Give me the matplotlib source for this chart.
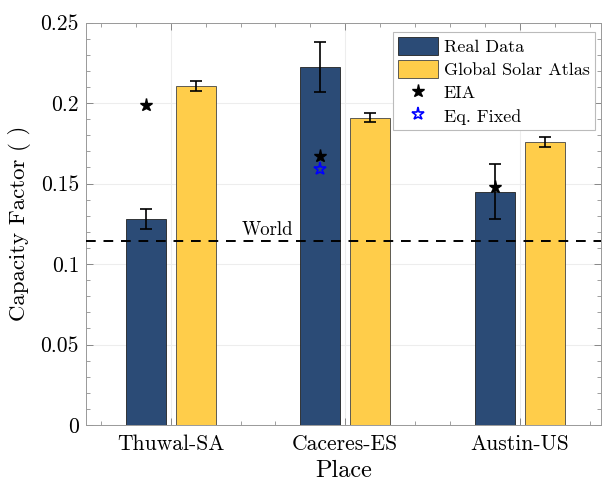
import numpy as np
import matplotlib
matplotlib.use("Agg")
import matplotlib.pyplot as plt
from matplotlib.ticker import MultipleLocator

places = ['Thuwal-SA', 'Caceres-ES', 'Austin-US']
real_data = [0.128, 0.2225, 0.1449]
real_err = [0.006, 0.0155, 0.017]
gsa = [0.2107, 0.1909, 0.1756]
gsa_err = [0.003, 0.003, 0.003]
eia = [0.199, 0.167, 0.148]
eq_fixed = [np.nan, 0.159, np.nan]
world = 0.1143

plt.rcParams['font.family'] = ['cmr10', 'DejaVu Serif']
plt.rcParams['axes.formatter.use_mathtext'] = True

fig = plt.figure(figsize=(6.02, 4.82), dpi=100)
ax = fig.add_axes([86/602, 57/482, 515/602, 402.5/482])

x = np.arange(1, len(places) + 1)
off = 0.143
w = 0.229
blue = '#2B4B76'
yellow = '#FFCD4A'

h1 = ax.bar(x - off, real_data, w, color=blue, edgecolor='#222222', linewidth=0.6,
            label='Real Data', zorder=2)
h2 = ax.bar(x + off, gsa, w, color=yellow, edgecolor='#444444', linewidth=0.6,
            label='Global Solar Atlas', zorder=2)
ax.errorbar(x - off, real_data, yerr=real_err, fmt='none', ecolor='black',
            elinewidth=1.2, capsize=4, capthick=1.2, zorder=3)
ax.errorbar(x + off, gsa, yerr=gsa_err, fmt='none', ecolor='black',
            elinewidth=1.2, capsize=4, capthick=1.2, zorder=3)
h3, = ax.plot(x - off, eia, linestyle='none', marker='*', color='black',
              markersize=9.5, label='EIA', zorder=4)
h4, = ax.plot(x - off, eq_fixed, linestyle='none', marker='*', markerfacecolor='none',
              markeredgecolor='blue', markeredgewidth=1.2, markersize=9.5,
              label='Eq. Fixed', zorder=4)

ax.axhline(world, color='black', linestyle=(0, (5, 4)), linewidth=1.4, zorder=3)
ax.text(1.405, world + 0.0015, 'World', fontsize=13.5, ha='left', va='bottom', zorder=3)

ax.set_xlim(0.515, 3.465)
ax.set_ylim(0, 0.25)
ax.set_xticks(x)
ax.set_xticklabels(places)
ax.yaxis.set_minor_locator(MultipleLocator(0.01))
ax.xaxis.set_minor_locator(MultipleLocator(0.2))
ax.set_yticks([0, 0.05, 0.1, 0.15, 0.2, 0.25])
ax.set_yticklabels(['0', '0.05', '0.1', '0.15', '0.2', '0.25'])
ax.tick_params(which='both', direction='in', top=True, right=True,
               color='#777777', labelsize=15.5)
ax.tick_params(which='major', length=5, width=0.6)
ax.tick_params(which='minor', length=3, width=0.5)
ax.tick_params(axis='x', pad=7)
ax.tick_params(axis='y', pad=5)
ax.grid(True, which='major', color='#ededed', linewidth=0.8, zorder=0)
ax.set_axisbelow(True)
for s in ax.spines.values():
    s.set_color('#999999')
    s.set_linewidth(0.7)

ax.set_xlabel('Place', fontsize=17.5, labelpad=4)
ax.set_ylabel('Capacity Factor ( )', fontsize=16.5, labelpad=7)

leg = ax.legend([h1, h2, h3, h4], ['Real Data', 'Global Solar Atlas', 'EIA', 'Eq. Fixed'],
                loc='upper right', bbox_to_anchor=(0.988, 0.977), fontsize=13,
                fancybox=False, framealpha=1, edgecolor='#bbbbbb',
                handlelength=2.2, handleheight=1.1, handletextpad=0.3,
                borderpad=0.3, labelspacing=0.3, borderaxespad=0)
leg.get_frame().set_linewidth(0.8)

fig.savefig('out.png', dpi=100)
